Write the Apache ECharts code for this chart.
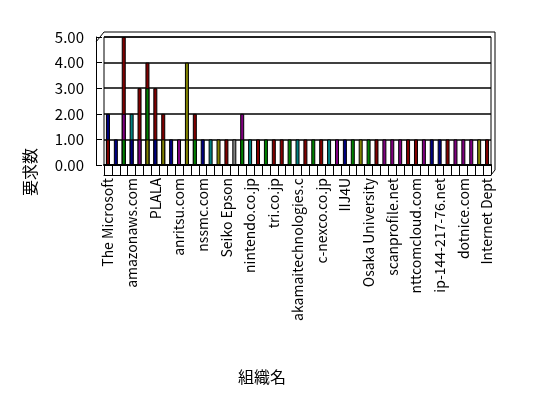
<!DOCTYPE html>
<html>
<head>
<meta charset="utf-8">
<script src="https://cdn.jsdelivr.net/npm/echarts@6/dist/echarts.min.js"></script>
<style>
  html, body { margin: 0; padding: 0; background: #fff; }
  #chart { width: 548px; height: 398px; }
</style>
</head>
<body>
<div id="chart"></div>
<script>
  // 49 organisations, only every third name is readable in the picture
  const categories = [
    'The Microsoft', '', '', 'amazonaws.com', '', '', 'PLALA', '', '',
    'anritsu.com', '', '', 'nssmc.com', '', '', 'Seiko Epson', '', '',
    'nintendo.co.jp', '', '', 'tri.co.jp', '', '', 'akamaitechnologies.c', '', '',
    'c-nexco.co.jp', '', '', 'IIJ4U', '', '', 'Osaka University', '', '',
    'scanprofile.net', '', '', 'nttcomcloud.com', '', '', 'ip-144-217-76.net', '', '',
    'dotnice.com', '', '', 'Internet Dept'
  ]
  const yTicks = [0, 1, 2, 3, 4, 5]

  // depth rows of the 3D chart: back, middle, front
  const backVals = [
    2, null, 5, 2, 3, 4, 3, 2, null, null, 4, 2, null, null, null, null, null, 2,
    null, null, null, null, null, null, null, null, null, null, null, null, null, null,
    null, null, null, null, null, null, null, null, null, null, null, null, null, null,
    null, null, null
  ]
  const midVals = [
    null, null, 2, null, null, 3, null, null, null, null, null, null, null, null, null, null,
    null, null, null, null, null, null, null, null, null, null, null, null, null, null,
    null, null, null, null, null, null, null, null, null, null, null, null, null, null,
    null, null, null, null, null
  ]
  const frontVals = [
    1, 1, 1, 1, 1, 1, 1, 1, 1, 1, 1, 1, 1, 1, 1, 1, 1, 1, 1, 1, 1, 1, 1, 1, 1,
    1, 1, 1, 1, 1, 1, 1, 1, 1, 1, 1, 1, 1, 1, 1, 1, 1, 1, 1, 1, 1, 1, 1, 1
  ]

  // colours (style only)
  const C = {
    navy: '#000080', red: '#800000', green: '#008000', olive: '#808000',
    purple: '#800080', teal: '#008080', gray: '#808080'
  }
  const backColors = { 0: C.navy, 2: C.red, 3: C.teal, 4: C.red, 5: C.red, 6: C.red, 7: C.red, 10: C.olive, 11: C.red, 17: C.purple }
  const midColors = { 2: C.purple, 5: C.green }
  const frontColors = [
    'red', 'navy', 'green', 'navy', 'purple', 'olive', 'navy', 'olive', 'navy', 'purple',
    'olive', 'green', 'navy', 'teal', 'olive', 'red', 'gray', 'green', 'teal', 'red',
    'green', 'red', 'red', 'green', 'teal', 'red', 'green', 'red', 'teal', 'purple',
    'navy', 'green', 'olive', 'green', 'red', 'purple', 'purple', 'purple', 'red', 'red',
    'purple', 'navy', 'navy', 'red', 'purple', 'purple', 'purple', 'olive', 'red'
  ].map((k) => C[k])

  const font = '"Noto Sans CJK JP", sans-serif'

  function barSeries(values, colorOf, z) {
    return {
      type: 'bar',
      data: values,
      barWidth: 4,
      barGap: '-100%',
      z: z,
      animation: false,
      itemStyle: {
        color: (p) => colorOf(p.dataIndex),
        borderColor: '#000',
        borderWidth: 1,
      },
    }
  }

  const chart = echarts.init(document.getElementById('chart'))
  chart.setOption({
    animation: false,
    grid: {
      left: 104,
      right: 57,
      top: 37,
      bottom: 233,
      show: true,
      borderColor: '#000',
      borderWidth: 1,
    },
    xAxis: [
      {
        type: 'category',
        data: categories,
        axisLine: { lineStyle: { color: '#000', width: 2 } },
        axisTick: { show: true, interval: 0, length: 10, lineStyle: { color: '#000' } },
        axisLabel: {
          interval: 2,
          rotate: 90,
          margin: 13,
          color: '#000',
          fontFamily: font,
          fontSize: 14,
        },
      },
      {
        type: 'category',
        data: categories,
        position: 'bottom',
        offset: 10,
        axisLine: { lineStyle: { color: '#000', width: 1 } },
        axisTick: { show: false },
        axisLabel: { show: false },
      },
    ],
    yAxis: {
      type: 'value',
      min: yTicks[0],
      max: yTicks[yTicks.length - 1],
      interval: 1,
      offset: 8,
      axisLine: { show: true, lineStyle: { color: '#000' } },
      axisTick: { show: true, inside: true, length: 6, lineStyle: { color: '#000' } },
      axisLabel: {
        margin: 12,
        color: '#000',
        fontFamily: font,
        fontSize: 15,
        formatter: (v) => v.toFixed(2),
      },
      splitLine: { lineStyle: { color: '#000', width: 1.5 } },
    },
    graphic: [
      {
        type: 'polyline',
        shape: { points: [[96, 42], [104, 32], [495, 32], [495, 170], [491, 175]] },
        style: { stroke: '#000', fill: null, lineWidth: 1 },
      },
      {
        type: 'text',
        x: 30,
        y: 172,
        rotation: Math.PI / 2,
        style: {
          text: '要求数',
          font: '16px ' + font,
          fill: '#000',
          align: 'center',
          verticalAlign: 'middle',
        },
      },
      {
        type: 'text',
        x: 262,
        y: 377,
        style: {
          text: '組織名',
          font: '16px ' + font,
          fill: '#000',
          align: 'center',
          verticalAlign: 'middle',
        },
      },
    ],
    series: [
      barSeries(backVals, (i) => backColors[i], 2),
      barSeries(midVals, (i) => midColors[i], 3),
      barSeries(frontVals, (i) => frontColors[i], 4),
    ],
  })
</script>
</body>
</html>
